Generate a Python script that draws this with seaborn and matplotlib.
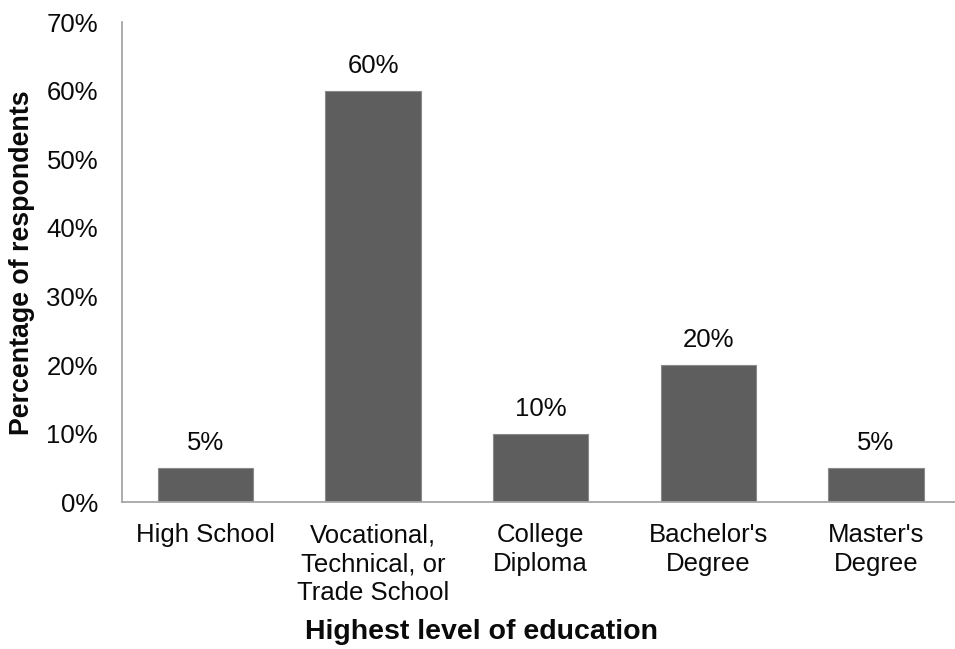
import matplotlib
matplotlib.use("Agg")
import matplotlib.pyplot as plt
import seaborn as sns
import pandas as pd

categories = ["High School", "Vocational,\nTechnical, or\nTrade School",
              "College\nDiploma", "Bachelor's\nDegree", "Master's\nDegree"]
shares = [0.05, 0.60, 0.10, 0.20, 0.05]
yticks = [0.0, 0.1, 0.2, 0.3, 0.4, 0.5, 0.6, 0.7]

sns.set_style("white")
plt.rcParams["font.family"] = ["Liberation Sans", "DejaVu Sans"]

df = pd.DataFrame({"level": categories, "share": shares})

fig = plt.figure(figsize=(9.55, 6.49), dpi=100)
ax = fig.add_axes([0.1274, 0.226, 0.8775, 0.740])

sns.barplot(data=df, x="level", y="share", color="#5e5e5e", saturation=1,
            width=0.57, edgecolor="#8a8a8a", linewidth=0.8, ax=ax)

for i, v in enumerate(shares):
    ax.annotate("{:.0%}".format(v), (i, v), xytext=(0, 18), textcoords="offset points",
                ha="center", va="center", fontsize=18.5, color="#0a0a0a")

ax.set_ylim(0, 0.7)
ax.set_xlim(-0.5, 4.5)
ax.set_yticks(yticks)
ax.set_yticklabels(["{:.0%}".format(t) for t in yticks])
ax.tick_params(axis="both", length=0, labelsize=18.5, colors="#0a0a0a")
ax.tick_params(axis="y", pad=17)
ax.tick_params(axis="x", pad=15)
for lbl in ax.get_xticklabels():
    lbl.set_linespacing(1.26)

for s in ["top", "right"]:
    ax.spines[s].set_visible(False)
for s in ["left", "bottom"]:
    ax.spines[s].set_color("#a6a6a6")
    ax.spines[s].set_linewidth(1.3)

ax.set_xlabel("Highest level of education", fontsize=20.5, fontweight="bold",
              color="#0a0a0a")
ax.xaxis.set_label_coords(0.429, -0.271)
ax.xaxis.label.set_va("center")
ax.set_ylabel("Percentage of respondents", fontsize=19.3, fontweight="bold", labelpad=8,
              color="#0a0a0a")

fig.savefig("out.png", dpi=100)
